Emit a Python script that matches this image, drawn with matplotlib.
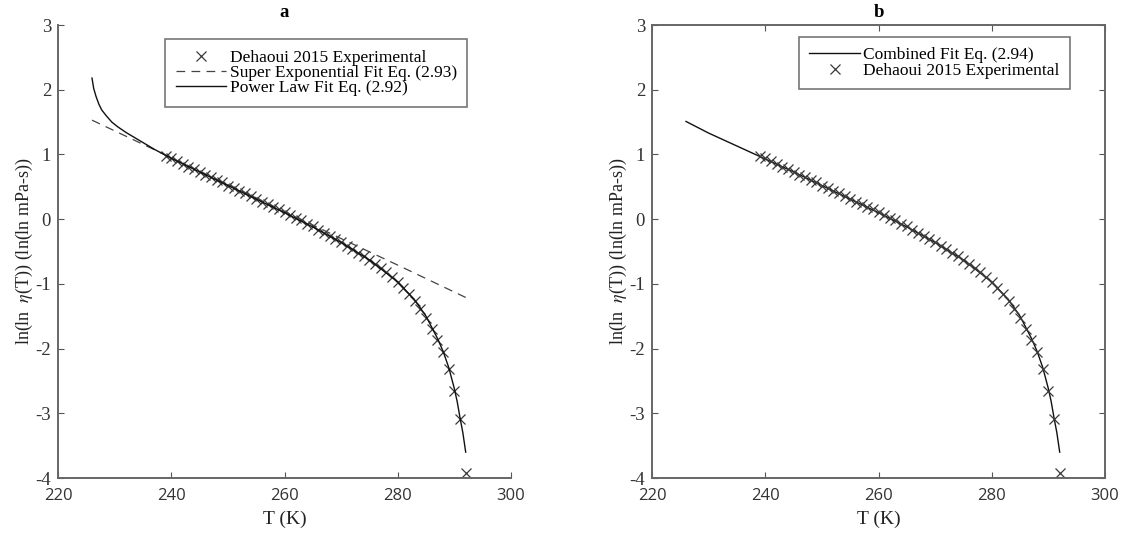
import matplotlib
matplotlib.use("Agg")
import matplotlib.pyplot as plt

plt.rcParams['font.family'] = ['Liberation Serif', 'DejaVu Serif']
plt.rcParams['mathtext.fontset'] = 'stix'

# Dehaoui 2015 experimental points
exp_T = list(range(239, 293))
exp_y = [0.98, 0.94, 0.90, 0.86, 0.81, 0.77, 0.73, 0.69, 0.65, 0.61,
         0.57, 0.52, 0.48, 0.44, 0.40, 0.36, 0.31, 0.27, 0.23, 0.19,
         0.15, 0.11, 0.06, 0.02, -0.02, -0.07, -0.11, -0.16, -0.21, -0.26,
         -0.31, -0.36, -0.41, -0.46, -0.52, -0.57, -0.63, -0.69, -0.75, -0.82,
         -0.89, -0.97, -1.06, -1.16, -1.27, -1.39, -1.53, -1.70, -1.86, -2.06,
         -2.31, -2.65, -3.09, -3.92]

# power law fit, eq. (2.92)
pow_T = [226, 226.3, 226.7, 227.2, 227.7, 228.5, 229.5, 230.5, 232, 234.5,
         237, 240, 245, 250, 255, 260, 265, 270, 275, 280,
         283, 285, 287, 288, 289, 290, 290.5, 291, 291.5, 292]
pow_y = [2.18, 2.02, 1.90, 1.78, 1.69, 1.60, 1.50, 1.43, 1.34, 1.21,
         1.08, 0.94, 0.73, 0.52, 0.31, 0.10, -0.12, -0.36, -0.63, -0.97,
         -1.25, -1.50, -1.84, -2.04, -2.29, -2.62, -2.82, -3.07, -3.30, -3.60]

# super exponential fit, eq. (2.93)
sup_T = [226, 240, 255, 270, 280, 292]
sup_y = [1.53, 0.95, 0.33, -0.30, -0.71, -1.21]

# combined fit, eq. (2.94)
comb_T = [226, 230, 235, 239, 245, 250, 255, 260, 265, 270, 275, 280,
          283, 285, 287, 288, 289, 290, 290.5, 291, 291.5, 292]
comb_y = [1.51, 1.33, 1.13, 0.97, 0.73, 0.52, 0.31, 0.10, -0.12, -0.36, -0.63, -0.97,
          -1.25, -1.50, -1.84, -2.04, -2.29, -2.62, -2.82, -3.07, -3.30, -3.60]

xticks = [220, 240, 260, 280, 300]
yticks = [-4, -3, -2, -1, 0, 1, 2, 3]
ylab = r'ln(ln  $\eta$(T)) (ln(ln mPa-s))'

fig = plt.figure(figsize=(11.31, 5.38), dpi=100)
ax1 = fig.add_axes([0.0513, 0.1115, 0.4005, 0.842])
ax2 = fig.add_axes([0.5765, 0.1115, 0.4005, 0.842])

mk = dict(marker='x', ls='none', color='#3a3a3a', ms=7, mew=0.9)

ax1.plot(exp_T, exp_y, label='Dehaoui 2015 Experimental', **mk)
ax1.plot(sup_T, sup_y, ls=(0, (7, 5)), color='#444444', lw=0.9,
         label='Super Exponential Fit Eq. (2.93)')
ax1.plot(pow_T, pow_y, color='#111111', lw=1.0, label='Power Law Fit Eq. (2.92)')

ax2.plot(comb_T, comb_y, color='#111111', lw=1.0, label='Combined Fit Eq. (2.94)')
ax2.plot(exp_T, exp_y, label='Dehaoui 2015 Experimental', **mk)

for ax, title in [(ax1, 'a'), (ax2, 'b')]:
    ax.set_xlim(220, 300)
    ax.set_ylim(-4, 3)
    ax.set_xticks(xticks)
    ax.set_yticks(yticks)
    ax.set_xticklabels([str(v) for v in xticks], family='Open Sans', fontsize=12, color='#333333')
    ax.set_yticklabels([str(v) for v in yticks], fontsize=13.5, color='#333333')
    ax.tick_params(direction='in', length=4, width=0.8, color='#555555', pad=5)
    ax.tick_params(axis='x', pad=7)
    for s in ax.spines.values():
        s.set_color('#666666')
        s.set_linewidth(1.4)
    ax.set_xlabel('T (K)', fontsize=14, color='#222222', labelpad=5)
    ax.set_ylabel(ylab, fontsize=13, color='#222222', labelpad=0)
    ax.set_title(title, fontsize=13.5, fontweight='bold', pad=6)

ax1.spines['top'].set_visible(False)
ax1.spines['right'].set_visible(False)
ax2.tick_params(top=True, right=True)

leg_kw = dict(fontsize=12.5, frameon=True, fancybox=False, borderpad=0.6,
              labelspacing=-0.05, handlelength=2.9, handletextpad=0.2,
              borderaxespad=0.0)
lg1 = ax1.legend(loc='upper right', bbox_to_anchor=(0.903, 0.969), **leg_kw)
lg2 = ax2.legend(loc='upper right', bbox_to_anchor=(0.923, 0.974), **leg_kw)
for lg in (lg1, lg2):
    lg.get_frame().set_edgecolor('#555555')
    lg.get_frame().set_linewidth(1.2)

fig.savefig('out.png', dpi=100)
